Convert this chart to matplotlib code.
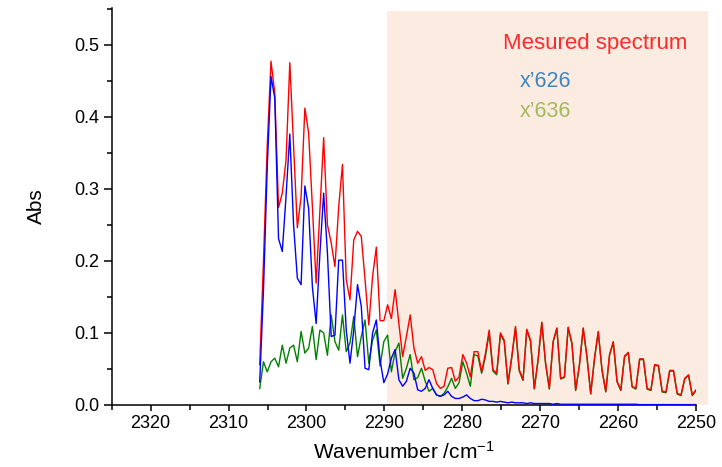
import numpy as np
import matplotlib
matplotlib.use("Agg")
import matplotlib.pyplot as plt
from matplotlib.patches import Rectangle
from matplotlib.ticker import MultipleLocator, FormatStrFormatter

plt.rcParams['font.family'] = ['Liberation Sans', 'DejaVu Sans']
plt.rcParams['mathtext.fontset'] = 'custom'
plt.rcParams['mathtext.rm'] = 'Liberation Sans'
plt.rcParams['mathtext.it'] = 'Liberation Sans:italic'
plt.rcParams['mathtext.bf'] = 'Liberation Sans:bold'

# Sampling grid of the spectrum (cm^-1), evenly spaced instrument points
wavenumber_first = 2306.0
wavenumber_step = 0.4828
n_points = 117

measured = [
    0.056, 0.200, 0.360, 0.477, 0.433, 0.274, 0.294, 0.340, 0.475, 0.360,
    0.246, 0.289, 0.412, 0.378, 0.275, 0.169, 0.270, 0.371, 0.250, 0.225,
    0.192, 0.275, 0.334, 0.174, 0.146, 0.229, 0.241, 0.234, 0.174, 0.111,
    0.178, 0.219, 0.117, 0.117, 0.139, 0.120, 0.160, 0.113, 0.067, 0.095,
    0.125, 0.079, 0.058, 0.067, 0.048, 0.052, 0.049, 0.030, 0.023, 0.026,
    0.051, 0.052, 0.033, 0.039, 0.070, 0.058, 0.039, 0.074, 0.074, 0.046,
    0.071, 0.104, 0.049, 0.044, 0.100, 0.090, 0.030, 0.067, 0.109, 0.049,
    0.035, 0.105, 0.090, 0.023, 0.063, 0.115, 0.058, 0.023, 0.088, 0.107,
    0.037, 0.039, 0.108, 0.086, 0.021, 0.056, 0.107, 0.067, 0.016, 0.065,
    0.102, 0.049, 0.019, 0.070, 0.088, 0.033, 0.021, 0.068, 0.073, 0.026,
    0.023, 0.064, 0.064, 0.023, 0.021, 0.056, 0.055, 0.019, 0.018, 0.048,
    0.048, 0.016, 0.014, 0.037, 0.042, 0.014, 0.021,
]

x626 = [
    0.032, 0.160, 0.330, 0.456, 0.426, 0.231, 0.213, 0.290, 0.376, 0.250,
    0.176, 0.167, 0.304, 0.273, 0.164, 0.113, 0.210, 0.294, 0.211, 0.095,
    0.097, 0.201, 0.201, 0.104, 0.058, 0.104, 0.167, 0.137, 0.051, 0.049,
    0.100, 0.118, 0.062, 0.031, 0.043, 0.065, 0.077, 0.035, 0.026, 0.033,
    0.051, 0.044, 0.021, 0.019, 0.023, 0.035, 0.023, 0.014, 0.012, 0.014,
    0.019, 0.012, 0.009, 0.009, 0.011, 0.014, 0.009, 0.006, 0.006, 0.008,
    0.007, 0.005, 0.005, 0.004, 0.005, 0.004, 0.003, 0.004, 0.003, 0.003,
    0.003, 0.002, 0.003, 0.002, 0.002, 0.002, 0.002, 0.002, 0.001, 0.002,
    0.001, 0.001, 0.001, 0.001, 0.001, 0.001, 0.001, 0.001, 0.001, 0.001,
    0.001, 0.001, 0.001, 0.001, 0.001, 0.001, 0.001, 0.001, 0.001, 0.001,
    0.001, 0.0005, 0.0005, 0.0005, 0.0005, 0.0005, 0.0005, 0.0005, 0.0005, 0.0005,
    0.0005, 0.0005, 0.0005, 0.0005, 0.0005, 0.0005, 0.0005,
]

x636 = [
    0.023, 0.060, 0.046, 0.060, 0.065, 0.053, 0.083, 0.058, 0.079, 0.083,
    0.060, 0.102, 0.072, 0.079, 0.109, 0.063, 0.104, 0.100, 0.069, 0.125,
    0.088, 0.076, 0.125, 0.074, 0.086, 0.123, 0.067, 0.095, 0.118, 0.058,
    0.090, 0.104, 0.054, 0.088, 0.097, 0.046, 0.074, 0.086, 0.037, 0.051,
    0.070, 0.035, 0.038, 0.051, 0.033, 0.019, 0.023, 0.014, 0.012, 0.016,
    0.025, 0.037, 0.023, 0.031, 0.060, 0.044, 0.026, 0.070, 0.068, 0.044,
    0.067, 0.100, 0.047, 0.042, 0.098, 0.088, 0.029, 0.065, 0.107, 0.047,
    0.034, 0.104, 0.088, 0.022, 0.062, 0.114, 0.057, 0.022, 0.087, 0.106,
    0.036, 0.038, 0.107, 0.085, 0.020, 0.055, 0.106, 0.066, 0.015, 0.064,
    0.101, 0.048, 0.018, 0.069, 0.087, 0.032, 0.020, 0.067, 0.072, 0.025,
    0.022, 0.063, 0.063, 0.022, 0.020, 0.055, 0.054, 0.018, 0.017, 0.047,
    0.047, 0.015, 0.013, 0.036, 0.041, 0.013, 0.020,
]

x_ticks = [2320, 2310, 2300, 2290, 2280, 2270, 2260, 2250]
y_ticks = [0.0, 0.1, 0.2, 0.3, 0.4, 0.5]
shade_range = (2289.6, 2248.5)

wavenumber = wavenumber_first - wavenumber_step * np.arange(n_points)

fig = plt.figure(figsize=(7.22, 4.67), dpi=100)
ax = fig.add_axes([0.1547, 0.1328, 0.8093, 0.8502])

ax.set_xlim(2325, 2250)
ax.set_ylim(0, 0.551)

shade = Rectangle((shade_range[0], 0), shade_range[1] - shade_range[0], 0.547,
                  facecolor='#fcebe0', edgecolor='none', zorder=0, clip_on=False)
ax.add_patch(shade)

lw = 1.0
ax.plot(wavenumber, x636, color='#008000', lw=lw, zorder=2)
ax.plot(wavenumber, measured, color='#ff0000', lw=lw, zorder=3)
ax.plot(wavenumber, x626, color='#0000ff', lw=lw, zorder=4)

ax.set_xticks(x_ticks)
ax.set_yticks(y_ticks)
ax.xaxis.set_minor_locator(MultipleLocator(5))
ax.yaxis.set_minor_locator(MultipleLocator(0.05))
ax.yaxis.set_major_formatter(FormatStrFormatter('%.1f'))

for s in ['top', 'right']:
    ax.spines[s].set_visible(False)
for s in ['left', 'bottom']:
    ax.spines[s].set_linewidth(1.1)

ax.tick_params(axis='both', which='major', direction='out', width=1.1, labelsize=13)
ax.tick_params(axis='x', which='major', length=4.5, pad=3)
ax.tick_params(axis='x', which='minor', length=3.5, width=1.1)
ax.tick_params(axis='y', which='major', length=6, pad=3)
ax.tick_params(axis='y', which='minor', length=3.5, width=1.1)

ax.set_xlabel('Wavenumber /cm$^{-1}$', fontsize=15, labelpad=6)
ax.set_ylabel('Abs', fontsize=15, labelpad=20)

fig.text(0.6962, 0.8944, 'Mesured spectrum', color='#ff2a2a', fontsize=16, va='baseline')
fig.text(0.720, 0.8144, 'x\u2019626', color='#3f86c0', fontsize=15.5, va='baseline')
fig.text(0.720, 0.750, 'x\u2019636', color='#a3ba5c', fontsize=15.5, va='baseline')

fig.savefig('out.png', dpi=100)
